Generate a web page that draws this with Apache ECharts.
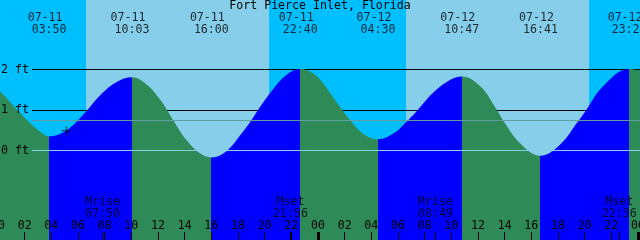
<!DOCTYPE html>
<html><head><meta charset="utf-8">
<script src="https://cdn.jsdelivr.net/npm/echarts@6/dist/echarts.min.js"></script>
<style>html,body{margin:0;padding:0;background:#00BFFF}#c{width:640px;height:240px}</style>
</head><body><div id="c"></div>
<script>
// ---- data (hours counted from 07-11 00:00, heights in feet) ----
const chartTitle = 'Fort Pierce Inlet, Florida';
const tideHours = [0.15, 0.9, 1.65, 2.4, 3.15, 3.833, 4.5, 5.15, 5.9, 6.65, 7.65, 8.9, 10.05,
  11.15, 12.15, 12.7, 13.15, 14.15, 15.15, 16.0, 17.15, 18.15, 18.95, 19.5, 20.65, 21.65, 22.667,
  23.4, 24.15, 24.9, 25.78, 26.4, 27.4, 28.5, 29.65, 30.6, 31.45, 32.65, 33.9, 34.783,
  36.15, 37.4, 37.85, 39.15, 40.683, 42.15, 43.4, 44.1, 45.4, 47.333, 48.15];
const tideFeet = [1.46, 1.20, 0.93, 0.68, 0.47, 0.35, 0.39, 0.50, 0.71, 0.98, 1.36, 1.69, 1.81,
  1.63, 1.26, 0.99, 0.74, 0.25, -0.07, -0.17, -0.01, 0.37, 0.72, 1.0, 1.52, 1.87, 2.01,
  1.95, 1.75, 1.42, 1.02, 0.75, 0.41, 0.28, 0.42, 0.70, 0.99, 1.43, 1.74, 1.83,
  1.59, 1.01, 0.76, 0.18, -0.13, 0.14, 0.67, 0.99, 1.59, 2.01, 1.97];
const eventHours = [3.833, 10.05, 16.0, 22.667, 28.5, 34.783, 40.683, 47.333];
const eventTypes = ['L', 'H', 'L', 'H', 'L', 'H', 'L', 'H'];
const eventDates = ['07-11', '07-11', '07-11', '07-11', '07-12', '07-12', '07-12', '07-12'];
const eventTimes = ['03:50', '10:03', '16:00', '22:40', '04:30', '10:47', '16:41', '23:20'];
const sunriseHours = [6.6, 30.6];
const sunsetHours = [20.33, 44.33];
const moonHours = [7.833, 21.933, 32.817, 46.6];
const moonNames = ['Mrise', 'Mset', 'Mrise', 'Mset'];
const moonTimes = ['07:50', '21:56', '08:49', '22:36'];
const hourLabels = [0, 2, 4, 6, 8, 10, 12, 14, 16, 18, 20, 22, 24, 26, 28, 30, 32, 34, 36, 38, 40, 42, 44, 46, 48];
const midnightHours = [24, 48];
const footLabels = [0, 1, 2];
const blackLevels = [1, 2];
const datumLevel = 0;
const meanLevel = 0.74;
const nowMark = [5.12, 0.49];

// ---- styles ----
const FONT = "'DejaVu Sans Mono', monospace";
const FS = 11.6;
const NIGHT = '#00BFFF', DAY = '#87CEEB', EBB = '#2E8B57', FLOOD = '#0000FF';
const X_MIN = 0, X_MAX = 48.15, Y_MIN = -2.21, Y_MAX = 3.716;

const pad = v => (v < 10 ? '0' : '') + v;
const pieces = [];
let prev = null;
eventHours.forEach((h, i) => {
  const p = { lt: h, color: eventTypes[i] === 'L' ? EBB : FLOOD };
  if (prev !== null) p.gte = prev;
  pieces.push(p); prev = h;
});
pieces.push({ gte: prev, color: eventTypes[eventTypes.length - 1] === 'H' ? EBB : FLOOD });

const txt = { fontFamily: FONT, fontSize: FS, color: '#000' };
function labelSeries(hours, yv, texts, offset) {
  return {
    type: 'scatter', xAxisIndex: 0, yAxisIndex: 0, symbolSize: 0, z: 20, silent: true, clip: false,
    data: hours.map(h => [h, yv]),
    label: Object.assign({ show: true, position: 'inside', offset: offset,
      formatter: p => texts[p.dataIndex] }, txt)
  };
}

const option = {
  animation: false,
  backgroundColor: NIGHT,
  title: { text: chartTitle, left: 'center', top: 0, padding: 0,
    textStyle: { fontFamily: FONT, fontSize: FS, fontWeight: 'normal', color: '#000' } },
  grid: [
    { left: -2, right: 0, top: 0, bottom: 0, containLabel: false, outerBoundsMode: 'none' },
    { left: 32, right: 0, top: 0, bottom: 0, containLabel: false, outerBoundsMode: 'none' }
  ],
  xAxis: [
    { type: 'value', gridIndex: 0, min: X_MIN, max: X_MAX, z: 10, position: 'bottom',
      axisLine: { show: false, onZero: false }, splitLine: { show: false },
      axisTick: { show: true, inside: true, length: 8, customValues: hourLabels.concat(moonHours),
        lineStyle: { color: '#000', width: 1 } },
      axisLabel: { show: true, inside: true, margin: 8.5, customValues: hourLabels,
        formatter: v => pad(Math.round(v) % 24), fontFamily: FONT, fontSize: FS, color: '#000' } },
    { type: 'value', gridIndex: 0, min: X_MIN, max: X_MAX, position: 'bottom', z: 11,
      axisLine: { show: false, onZero: false }, splitLine: { show: false }, axisLabel: { show: false },
      axisTick: { show: true, inside: true, length: 8, customValues: midnightHours,
        lineStyle: { color: '#000', width: 3 } } },
    { type: 'value', gridIndex: 1, min: 0, max: 1, show: false }
  ],
  yAxis: [
    { type: 'value', gridIndex: 0, min: Y_MIN, max: Y_MAX, z: 10,
      axisLine: { show: false, onZero: false }, axisTick: { show: false }, splitLine: { show: false },
      axisLabel: { show: true, inside: true, margin: 3, customValues: footLabels,
        formatter: v => v + ' ft', fontFamily: FONT, fontSize: FS, color: '#000' } },
    { type: 'value', gridIndex: 1, min: Y_MIN, max: Y_MAX, show: false }
  ],
  visualMap: { type: 'piecewise', show: false, dimension: 0, seriesIndex: 0, pieces: pieces },
  series: [
    { type: 'line', xAxisIndex: 0, yAxisIndex: 0, z: 2, silent: true,
      data: tideHours.map((h, i) => [h, tideFeet[i]]),
      smooth: 0.4, showSymbol: false, symbol: 'none',
      lineStyle: { width: 0 }, areaStyle: { opacity: 1, origin: 'start' },
      markArea: { silent: true, z: 1, itemStyle: { color: DAY }, label: { show: false },
        data: sunriseHours.map((s, i) => [{ xAxis: s }, { xAxis: sunsetHours[i] }]) } },
    { type: 'line', xAxisIndex: 2, yAxisIndex: 1, data: [], silent: true,
      markLine: { silent: true, z: 1.5, symbol: 'none', label: { show: false },
        lineStyle: { color: '#000', width: 1, type: 'solid' },
        data: blackLevels.map(v => ({ yAxis: v })) } },
    { type: 'line', xAxisIndex: 2, yAxisIndex: 1, data: [], silent: true,
      markLine: { silent: true, z: 3, symbol: 'none', label: { show: false },
        data: [
          { yAxis: datumLevel, lineStyle: { color: DAY, width: 1, type: 'solid' } },
          { yAxis: meanLevel, lineStyle: { color: '#5F9EA0', width: 1, type: 'solid' } }
        ] } },
    labelSeries(eventHours, Y_MAX, eventDates, [-4, 17.5]),
    labelSeries(eventHours, Y_MAX, eventTimes, [0, 29.5]),
    labelSeries(moonHours, Y_MIN, moonNames, [0, -38]),
    labelSeries(moonHours, Y_MIN, moonTimes, [0, -26.5]),
    { type: 'scatter', xAxisIndex: 0, yAxisIndex: 0, z: 20, silent: true,
      symbol: 'path://M0,4h9v1h-9z M4,0h1v9h-1z', symbolSize: 9,
      itemStyle: { color: '#000' }, data: [nowMark] }
  ]
};
const chart = echarts.init(document.getElementById('c'), null, { renderer: 'canvas' });
chart.setOption(option);
</script></body></html>
